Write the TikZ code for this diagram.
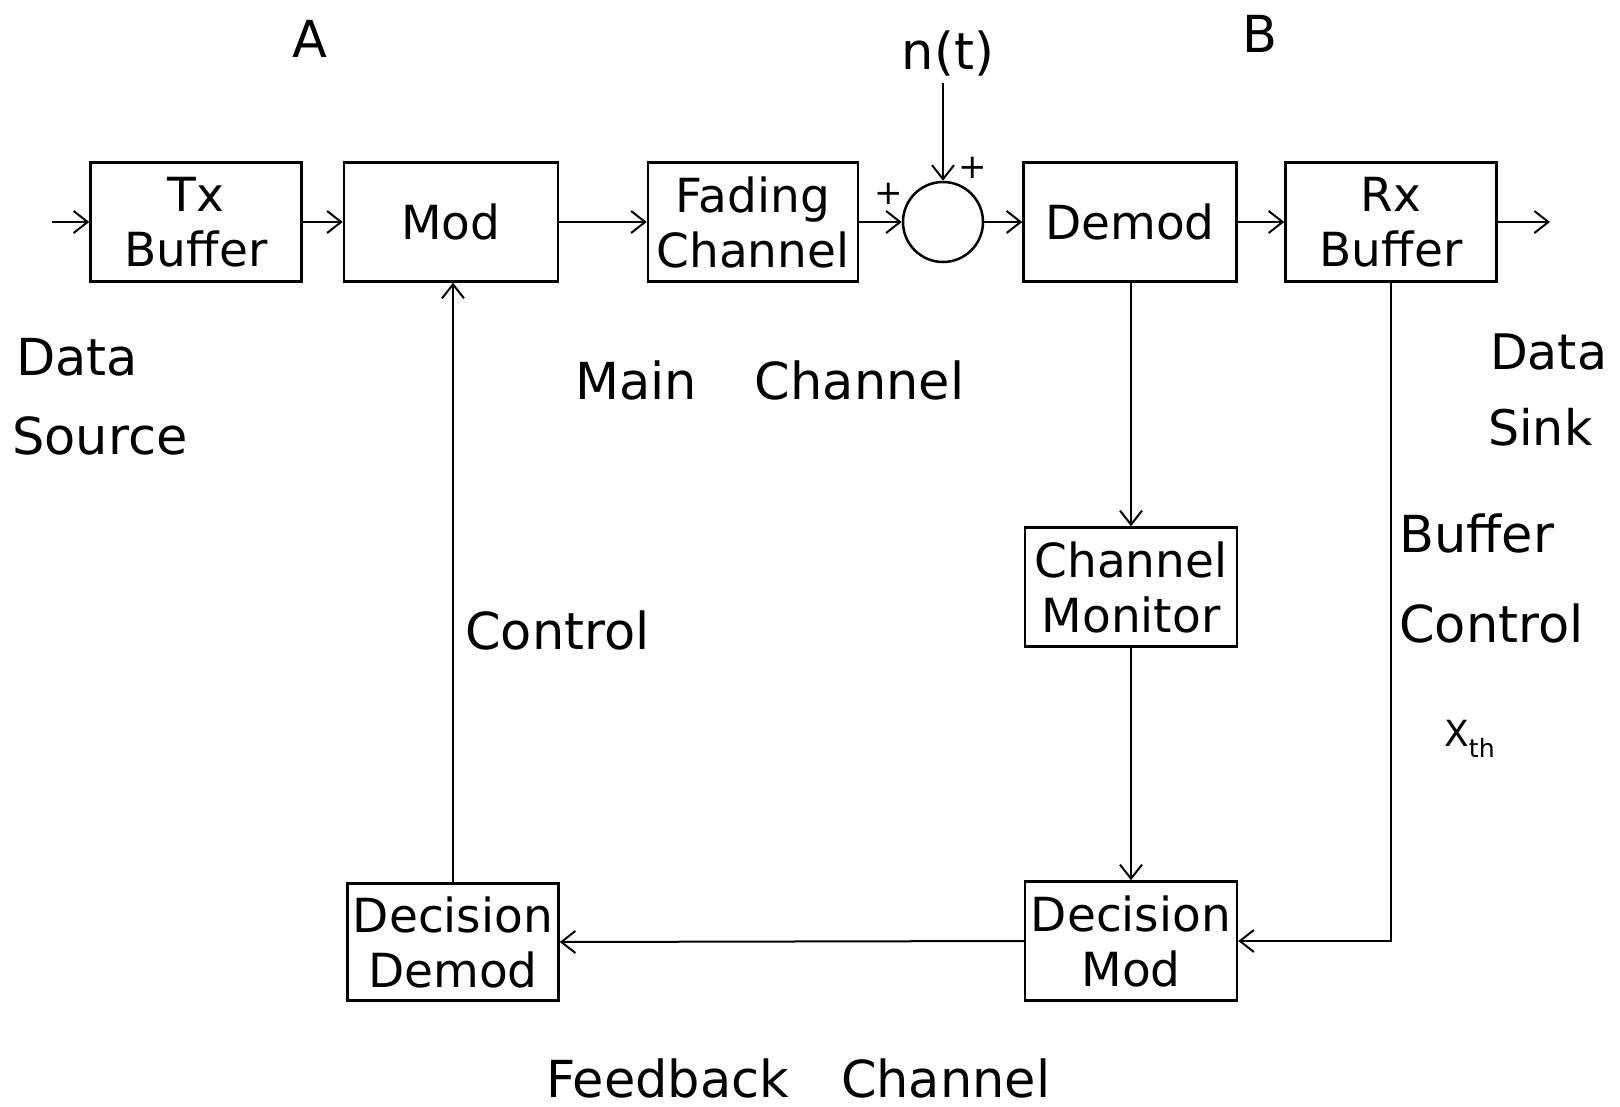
\documentclass[tikz,border=0pt]{standalone}
\usepackage{fontspec}
\setmainfont{DejaVu Sans}
\usetikzlibrary{arrows.meta}
\begin{document}
\begin{tikzpicture}[x=1pt,y=-1pt,
  blk/.style={draw, line width=2.5pt, minimum width=211pt, minimum height=119pt, inner sep=0pt, align=center, font=\fontsize{47}{55}\selectfont},
  lbl/.style={inner sep=0pt, font=\fontsize{51}{58}\selectfont},
  conn/.style={line width=2pt, -{Straight Barb[length=14pt,width=22pt]}},
  wire/.style={line width=2pt}]
\useasboundingbox (0,0) rectangle (1620,1107);
% main row
\node[blk] (tx) at (196,222) {Tx\\Buffer};
\node[blk, minimum width=214pt] (mod) at (451,222) {Mod};
\node[blk, minimum width=210pt] (fad) at (753,222) {Fading\\Channel};
\node[circle, draw, line width=2.5pt, minimum size=80pt, inner sep=0pt] (sum) at (943,222) {};
\node[blk, minimum width=213pt] (dem) at (1130,222) {Demod};
\node[blk] (rx) at (1391,222) {Rx\\Buffer};
% lower blocks
\node[blk, minimum width=212pt] (mon) at (1131,587) {Channel\\Monitor};
\node[blk, minimum width=212pt] (dmod) at (1131,941) {Decision\\Mod};
\node[blk, minimum height=117pt] (ddem) at (453,942) {Decision\\Demod};
% labels
\node[lbl] (la) at (310,39) {A};
\node[lbl] (lb) at (1260,34) {B};
\node[lbl] (nt) at (948,54) {n(t)};
\node[inner sep=0pt, font=\fontsize{34}{36}\selectfont] (p1) at (889,194) {+};
\node[inner sep=0pt, font=\fontsize{34}{36}\selectfont] (p2) at (973,168) {+};
\node[lbl, anchor=west] (ds1) at (16,357) {Data};
\node[lbl, anchor=west] (ds2) at (12,436) {Source};
\node[lbl, anchor=west] (mc) at (575,380) {Main\hspace*{58pt}Channel};
\node[lbl, anchor=west, font=\fontsize{49}{56}\selectfont] (dk1) at (1490,352) {Data};
\node[lbl, anchor=west, font=\fontsize{49}{56}\selectfont] (dk2) at (1488,427) {Sink};
\node[lbl, anchor=west] (bc1) at (1399,533) {Buffer};
\node[lbl, anchor=west] (bc2) at (1399,623) {Control};
\node[inner sep=0pt, anchor=west, font=\fontsize{36}{40}\selectfont] (xth) at (1444,739) {X\textsubscript{th}};
\node[lbl, anchor=west] (ctl) at (465,630) {Control};
\node[lbl, anchor=west] (fb) at (546,1078) {Feedback\hspace*{52pt}Channel};
% connectors
\coordinate (in) at (52,222);
\coordinate (out) at (1550,222);
\draw[conn] (in) -- (tx.west);
\draw[conn] (tx.east) -- (mod.west);
\draw[conn] (mod.east) -- (fad.west);
\draw[conn] (fad.east) -- (sum.west);
\draw[conn] (sum.east) -- (dem.west);
\draw[conn] (dem.east) -- (rx.west);
\draw[conn] (rx.east) -- (out);
\draw[conn, shorten <=6pt] (sum.north |- nt.south) -- (sum.north);
\draw[conn] (dem.south -| mon.north) -- (mon.north);
\draw[conn] (mon.south) -- (dmod.north);
\draw[conn] (rx.south) |- (dmod.east);
\draw[conn] (dmod.west) -- (ddem.east);
\draw[conn] (ddem.north) -- (ddem.north |- mod.south);
\end{tikzpicture}
\end{document}
